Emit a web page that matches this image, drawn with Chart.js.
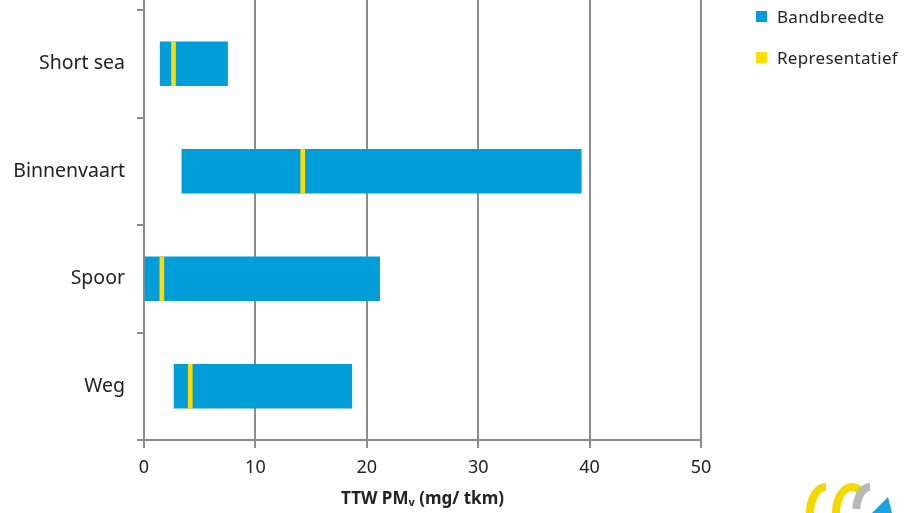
<!DOCTYPE html>
<html>
<head>
<meta charset="utf-8">
<script src="https://cdn.jsdelivr.net/npm/chart.js@4.4.0/dist/chart.umd.min.js"></script>
<style>
  html, body { margin: 0; padding: 0; background: #fff; }
  #wrap { position: relative; width: 912px; height: 513px; }
  #legend { position: absolute; left: 756px; top: -4px; font-family: "Noto Sans", sans-serif; font-size: 17px; color: #222; }
  #legend div { height: 41px; display: flex; align-items: center; letter-spacing: 0.3px; }
  #legend span.box { display: inline-block; width: 11px; height: 11px; margin-right: 10px; }
</style>
</head>
<body>
<div id="wrap">
  <canvas id="chart" width="912" height="513"></canvas>
  <div id="legend"></div>
</div>
<script>
// Données
const categories = ['Short sea', 'Binnenvaart', 'Spoor', 'Weg'];
const bandLow = [1.45, 3.4, 0, 2.7];
const bandHigh = [7.5, 39.25, 21.15, 18.65];
const representatief = [2.65, 14.25, 1.6, 4.15];
const xTicks = [0, 10, 20, 30, 40, 50];
const seriesNames = ['Bandbreedte', 'Representatief'];
const seriesColors = ['#009ED8', '#FFDD00'];

// petite largeur pour le trait jaune
const markHalf = 0.18;

// Prolonger les lignes de grille jusqu'en haut du canvas
const gridTopPlugin = {
    id: 'gridTop',
    beforeDatasetsDraw(chart) {
        const ctx = chart.ctx;
        const x = chart.scales.x;
        ctx.save();
        ctx.strokeStyle = '#8C8C8C';
        ctx.lineWidth = 2;
        xTicks.forEach(v => {
            const px = Math.round(x.getPixelForValue(v));
            ctx.beginPath();
            ctx.moveTo(px, 0);
            ctx.lineTo(px, chart.chartArea.top);
            ctx.stroke();
        });
        ctx.restore();
    }
};

// Logo en bas à droite (approximation)
const logoPlugin = {
    id: 'logo',
    afterDraw(chart) {
        const ctx = chart.ctx;
        ctx.save();
        ctx.lineWidth = 8;
        ctx.strokeStyle = '#F2DA00';
        ctx.beginPath();
        ctx.ellipse(826, 513, 16, 26, 0, Math.PI, 1.5 * Math.PI);
        ctx.stroke();
        ctx.beginPath();
        ctx.ellipse(852, 513, 16, 26, 0, Math.PI, 1.75 * Math.PI);
        ctx.stroke();
        ctx.strokeStyle = '#B8B8B8';
        ctx.beginPath();
        ctx.ellipse(870, 513, 14, 26, 0, 1.05 * Math.PI, 1.5 * Math.PI);
        ctx.stroke();
        ctx.fillStyle = '#1BA3E0';
        ctx.beginPath();
        ctx.moveTo(872, 513);
        ctx.lineTo(888, 497);
        ctx.lineTo(892, 513);
        ctx.closePath();
        ctx.fill();
        ctx.restore();
    }
};

const ctx = document.getElementById('chart').getContext('2d');
const chart = new Chart(ctx, {
    type: 'bar',
    data: {
        labels: categories,
        datasets: [{
            label: seriesNames[0],
            data: bandLow.map((v, i) => [v, bandHigh[i]]),
            backgroundColor: seriesColors[0],
            order: 1,
            grouped: false,
            barThickness: 44
        }, {
            label: seriesNames[1],
            data: representatief.map(v => [v - markHalf, v + markHalf]),
            backgroundColor: seriesColors[1],
            order: 0,
            grouped: false,
            barThickness: 44
        }]
    },
    options: {
        indexAxis: 'y',
        responsive: false,
        animation: false,
        layout: { padding: { top: 10, right: 211, left: 0, bottom: 0 } },
        scales: {
            x: {
                min: 0,
                max: 50,
                afterBuildTicks: s => { s.ticks = xTicks.map(v => ({ value: v })); },
                afterFit: s => { s.height = 73; s.paddingLeft = 0; s.paddingRight = 0; },
                grid: { color: '#8C8C8C', lineWidth: 2, tickLength: 8, drawTicks: true },
                border: { color: '#8C8C8C', width: 2 },
                ticks: {
                    color: '#222',
                    padding: 9,
                    font: { family: 'Noto Sans', size: 18 }
                },
                title: {
                    display: true,
                    text: 'TTW PMᵥ (mg/ tkm)',
                    color: '#222',
                    padding: { top: 2, bottom: 4 },
                    font: { family: 'Noto Sans', size: 17, weight: 'bold' }
                }
            },
            y: {
                afterFit: s => { s.width = 144; s.paddingTop = 0; s.paddingBottom = 0; },
                grid: { drawOnChartArea: false, drawTicks: true, tickLength: 7, color: '#8C8C8C', lineWidth: 2 },
                border: { color: '#8C8C8C', width: 2 },
                ticks: {
                    color: '#222',
                    padding: 12,
                    font: { family: 'Noto Sans', size: 19.5 }
                }
            }
        },
        plugins: {
            legend: { display: false },
            tooltip: { enabled: false }
        }
    },
    plugins: [gridTopPlugin, logoPlugin]
});

// Légende HTML
const legend = document.getElementById('legend');
seriesNames.forEach((name, i) => {
    const row = document.createElement('div');
    row.innerHTML = '<span class="box" style="background:' + seriesColors[i] + '"></span>' + name;
    legend.appendChild(row);
});
</script>
</body>
</html>
